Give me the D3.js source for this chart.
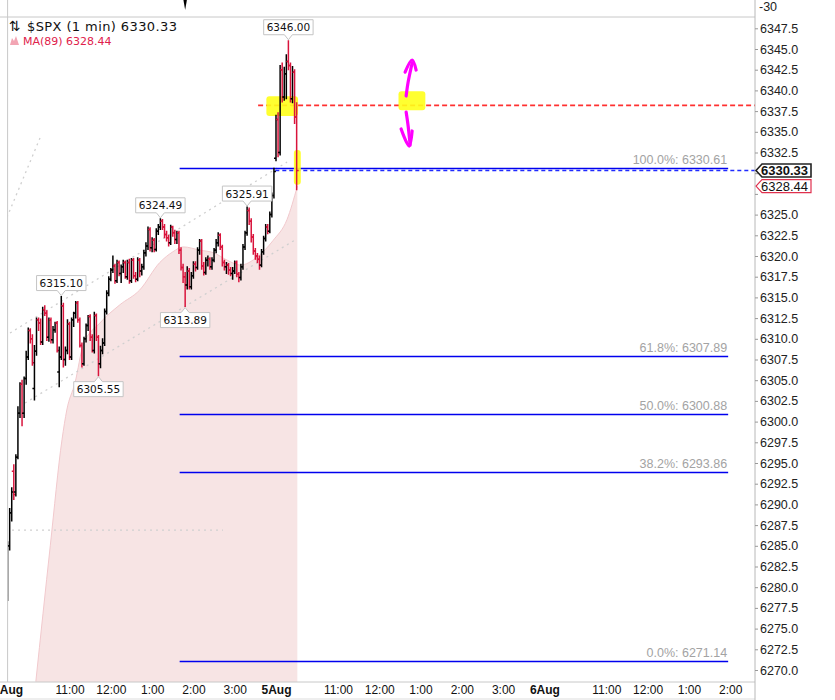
<!DOCTYPE html>
<html><head><meta charset="utf-8">
<script src="https://cdn.jsdelivr.net/npm/d3@7"></script>
<style>
html,body{margin:0;padding:0;background:#fff;}
svg{display:block;}
</style></head><body>
<svg id="chart" width="835" height="700"></svg>
<script>
// ---------------- DATA ----------------
const symbolText = "$SPX (1 min) 6330.33";
const maText = "MA(89) 6328.44";
const lastPrice = 6330.33;
const lastMA = 6328.44;
const redLevel = 6338.2;

// 3-minute OHLC bars, trading minutes counted from 4 Aug 9:30 (390 min per session)
const barMinutes = d3.range(0, 423, 3);
const opens = [6279.0,6285.0,6289.0,6294.0,6291.5,6295.7,6301.0,6304.5,6301.0,6305.2,
6307.8,6311.0,6310.0,6304.0,6308.5,6312.3,6311.9,6309.6,6313.5,6313.1,
6310.2,6312.3,6309.9,6311.1,6311.9,6306.0,6307.8,6314.0,6307.5,6308.6,
6311.8,6307.8,6312.3,6313.1,6314.3,6312.3,6309.2,6307.0,6310.0,6311.6,
6312.7,6310.2,6308.6,6312.8,6310.2,6307.0,6308.6,6309.5,6313.3,6315.5,
6317.2,6318.3,6318.8,6317.0,6319.2,6317.9,6318.7,6319.2,6317.5,6319.2,
6317.0,6319.5,6317.6,6317.2,6319.5,6318.2,6318.7,6320.4,6321.2,6323.2,
6321.0,6321.9,6320.8,6323.0,6323.5,6324.2,6323.5,6322.6,6322.2,6321.6,
6323.5,6322.8,6322.0,6322.8,6320.7,6318.6,6317.5,6316.5,6318.2,6316.3,
6317.6,6319.0,6318.6,6320.7,6321.8,6318.8,6318.0,6319.5,6319.6,6318.7,
6319.5,6320.7,6321.6,6322.5,6321.1,6319.2,6318.7,6318.9,6318.3,6317.9,
6318.2,6319.2,6317.8,6317.4,6318.7,6321.1,6322.8,6325.5,6324.2,6322.3,
6320.6,6320.0,6319.6,6318.9,6320.5,6322.1,6323.5,6323.0,6325.0,6327.3,
6331.8,6336.5,6332.5,6342.5,6339.2,6342.0,6343.5,6343.0,6339.0,6342.2,
6336.8];
const highs = [6285.5,6289.5,6292.0,6294.8,6296.0,6301.8,6304.7,6305.0,6305.4,6308.5,
6311.3,6311.2,6310.5,6309.2,6312.5,6312.5,6312.4,6313.8,6314.0,6313.4,
6312.5,6312.5,6311.5,6312.0,6312.1,6309.0,6315.1,6314.3,6309.0,6312.3,
6312.0,6312.5,6313.2,6314.5,6314.5,6312.5,6309.5,6310.2,6311.8,6312.8,
6312.9,6310.5,6313.2,6313.0,6310.4,6309.1,6310.0,6313.6,6315.8,6317.5,
6318.5,6320.0,6319.0,6319.5,6319.4,6318.9,6319.5,6319.4,6319.5,6319.6,
6319.7,6319.7,6318.0,6319.8,6319.7,6319.0,6320.7,6321.6,6323.5,6323.4,
6322.2,6322.1,6323.3,6323.8,6324.49,6324.4,6323.8,6323.0,6322.5,6323.7,
6323.6,6323.1,6323.0,6323.0,6321.0,6319.0,6318.0,6318.7,6318.5,6318.0,
6319.3,6319.3,6321.0,6322.0,6322.0,6319.2,6319.8,6320.0,6319.8,6319.8,
6320.9,6322.0,6322.8,6322.7,6321.3,6319.5,6319.2,6319.1,6318.6,6318.6,
6319.4,6319.4,6318.0,6319.0,6321.4,6323.0,6325.91,6325.8,6324.5,6322.6,
6320.9,6320.3,6320.0,6320.8,6322.4,6323.8,6323.8,6325.3,6327.6,6330.61,
6337.0,6337.3,6343.0,6343.3,6342.8,6344.3,6346.0,6343.3,6342.9,6342.5,
6338.5];
const lows = [6278.4,6284.5,6288.0,6290.6,6291.0,6295.5,6300.5,6299.5,6300.5,6304.5,
6307.5,6309.5,6306.8,6302.6,6308.0,6311.0,6309.3,6309.3,6312.8,6309.8,
6309.7,6309.5,6309.5,6310.8,6308.4,6304.2,6307.5,6306.6,6306.8,6308.2,
6307.5,6307.5,6311.5,6312.5,6312.0,6309.0,6306.6,6306.8,6309.6,6311.0,
6309.8,6308.4,6308.3,6309.8,6305.55,6306.5,6308.2,6309.2,6313.0,6315.2,
6317.0,6318.0,6316.7,6316.8,6317.6,6316.8,6318.0,6317.3,6317.2,6316.7,
6316.8,6317.3,6316.9,6317.0,6317.5,6317.7,6318.4,6320.0,6320.8,6320.6,
6320.5,6320.5,6320.6,6322.6,6323.2,6323.2,6322.2,6321.8,6321.2,6321.4,
6322.4,6321.5,6321.5,6320.3,6318.3,6316.8,6313.89,6316.0,6316.0,6316.0,
6317.3,6318.2,6318.4,6320.2,6318.4,6317.7,6317.8,6318.8,6318.4,6318.4,
6319.3,6320.4,6321.2,6320.8,6318.8,6318.3,6317.9,6317.8,6317.6,6317.2,
6317.9,6317.5,6316.9,6317.1,6318.4,6320.8,6322.5,6323.8,6321.7,6320.2,
6319.6,6319.2,6318.4,6318.7,6320.2,6321.8,6322.7,6322.8,6324.7,6327.0,
6331.5,6332.0,6332.2,6338.6,6338.8,6339.0,6342.5,6338.6,6338.5,6336.0,
6328.0];
const closes = [6285.0,6289.0,6291.5,6291.2,6295.7,6301.0,6304.5,6301.0,6305.2,6307.8,
6311.0,6310.0,6307.1,6308.5,6312.3,6311.9,6309.6,6313.5,6313.1,6310.2,
6312.3,6309.9,6311.1,6311.9,6308.6,6307.8,6314.0,6307.5,6308.6,6311.8,
6307.8,6312.3,6313.1,6314.3,6312.3,6309.2,6307.0,6310.0,6311.6,6312.7,
6310.2,6308.6,6312.8,6310.2,6307.0,6308.6,6309.5,6313.3,6315.5,6317.2,
6318.3,6318.8,6317.0,6319.2,6317.9,6318.7,6319.2,6317.5,6319.2,6317.0,
6319.5,6317.6,6317.2,6319.5,6318.2,6318.7,6320.4,6321.2,6323.2,6321.0,
6321.9,6320.8,6323.0,6323.5,6324.2,6323.5,6322.6,6322.2,6321.6,6323.5,
6322.8,6322.0,6322.8,6320.7,6318.6,6317.5,6316.5,6318.2,6316.3,6317.6,
6319.0,6318.6,6320.7,6321.8,6318.8,6318.0,6319.5,6319.6,6318.7,6319.5,
6320.7,6321.6,6322.5,6321.1,6319.2,6318.7,6318.9,6318.3,6317.9,6318.2,
6319.2,6317.8,6317.4,6318.7,6321.1,6322.8,6325.5,6324.2,6322.3,6320.6,
6320.0,6319.6,6318.9,6320.5,6322.1,6323.5,6323.0,6325.0,6327.3,6330.2,
6336.5,6332.5,6342.5,6339.2,6342.0,6343.5,6343.0,6339.0,6342.2,6336.8,
6330.33];

// MA(89) read at sampled minutes
const maMinutes = [41,62,79,86,98,110,134,163,192,221,240,255,280,299,319,338,363,386,406,421];
const maValues = [6268.6,6285.0,6297.8,6301.4,6304.7,6309.3,6311.9,6314.1,6315.9,6319.2,6320.5,6321.1,6320.7,6320.4,6319.5,6318.9,6319.9,6321.9,6324.4,6328.44];

// Fibonacci retracement
const fibLabels = ["100.0%","61.8%","50.0%","38.2%","0.0%"];
const fibValues = [6330.61,6307.89,6300.88,6293.86,6271.14];
const fibStartMinute = 250, fibEndMinute = 1047;

// price callouts (bar index, side)
const calloutBars = [136,74,116,26,86,44];
const calloutSides = ["high","high","high","high","low","low"];

// axis ticks
const yTicks = d3.range(6270, 6348, 2.5);
const xTickMinutes = [0,90,150,210,270,330,390,480,540,600,660,720,780,870,930,990,1050];
const xTickLabels = ["4Aug","11:00","12:00","1:00","2:00","3:00","5Aug","11:00","12:00","1:00","2:00","3:00","6Aug","11:00","12:00","1:00","2:00"];

// drawn trend lines (minute, price)
const trendLines = [
  [[-11,6322.66],[47.1,6334.25]],
  [[3.5,6310.70],[406.1,6331.35]],
  [[25.3,6302.25],[417.7,6321.94]],
  [[-11,6286.9],[313,6286.9]]
];
// yellow highlighter marks [m0,m1,p0,p1]
const highlights = [[376,422,6339.3,6336.9],[568,607,6339.9,6337.6],[416,426,6332.8,6328.6]];
// magenta arrows (minute, price)
const arrowUpShaft = [[579.1,6339.32],[582.0,6341.01],[587.8,6343.3]];
const arrowUpHead = [[577.6,6342.2],[587.8,6343.67],[593.6,6342.46]];
const arrowDownShaft = [[579.1,6337.39],[582.0,6335.70],[584.9,6333.40]];
const arrowDownHead = [[571.8,6335.34],[583.4,6333.28],[587.8,6335.10]];

// ---------------- CHART ----------------
const W = 835, H = 700;
const plotLeft = 7.6, plotRight = 755, plotTop = 17, plotBottom = 682;
const svg = d3.select("#chart");
const x = d3.scaleLinear().domain([0, 1086]).range([plotLeft, plotRight]);
const y = d3.scaleLinear().domain([6270, 6347.5]).range([670, 28.3]);
const crisp = v => Math.round(v) + 0.5;

svg.append("rect").attr("width", W).attr("height", H).attr("fill", "#fff");
svg.append("defs").append("clipPath").attr("id", "plotclip")
  .append("rect").attr("x", plotLeft).attr("y", plotTop).attr("width", plotRight - plotLeft).attr("height", plotBottom - plotTop);

const plot = svg.append("g").attr("clip-path", "url(#plotclip)");

// MA area
const maData = maMinutes.map((m, i) => ({ m, v: maValues[i] }));
plot.append("path").datum(maData)
  .attr("d", d3.area().x(d => x(d.m)).y0(plotBottom).y1(d => y(d.v)).curve(d3.curveMonotoneX))
  .attr("fill", "#f7e4e4");
plot.append("path").datum(maData)
  .attr("d", d3.line().x(d => x(d.m)).y(d => y(d.v)).curve(d3.curveMonotoneX))
  .attr("fill", "none").attr("stroke", "#f1c9cd").attr("stroke-width", 1);

// dotted trend lines
plot.append("g").selectAll("line").data(trendLines).join("line")
  .attr("x1", d => x(d[0][0])).attr("y1", d => y(d[0][1]))
  .attr("x2", d => x(d[1][0])).attr("y2", d => y(d[1][1]))
  .attr("stroke", "#cfcfcf").attr("stroke-width", 1.3).attr("stroke-dasharray", "2,4");

// fib lines
const fibG = plot.append("g");
fibG.selectAll("line").data(fibValues).join("line")
  .attr("x1", x(fibStartMinute)).attr("x2", x(fibEndMinute))
  .attr("y1", d => crisp(y(d))).attr("y2", d => crisp(y(d)))
  .attr("stroke", "#0000ee").attr("stroke-width", 1.3);
fibG.selectAll("text").data(fibValues).join("text")
  .attr("x", x(fibEndMinute) - 1).attr("y", d => y(d) - 4)
  .attr("text-anchor", "end")
  .attr("font-family", "Liberation Sans, Arial, sans-serif").attr("font-size", 12.5)
  .attr("fill", "#a3a3a3")
  .text((d, i) => `${fibLabels[i]}: ${d.toFixed(2)}`);

// dashed lines
plot.append("line").attr("x1", x(364)).attr("x2", plotRight)
  .attr("y1", y(redLevel)).attr("y2", y(redLevel))
  .attr("stroke", "#ff3030").attr("stroke-width", 1.8).attr("stroke-dasharray", "5,3");
plot.append("line").attr("x1", x(389)).attr("x2", plotRight)
  .attr("y1", crisp(y(lastPrice))).attr("y2", crisp(y(lastPrice)))
  .attr("stroke", "#1f2bff").attr("stroke-width", 1.3).attr("stroke-dasharray", "4,3");

// yellow highlights
plot.append("g").selectAll("rect").data(highlights).join("rect")
  .attr("x", d => x(d[0])).attr("width", d => x(d[1]) - x(d[0]))
  .attr("y", d => y(d[2])).attr("height", d => y(d[3]) - y(d[2]))
  .attr("rx", 3).attr("fill", "#ffff1a").attr("opacity", 0.9);

// OHLC bars
const barData = barMinutes.map((m, i) => ({ m, o: opens[i], h: highs[i], l: lows[i], c: closes[i] }));
const bg = plot.append("g").selectAll("g").data(barData).join("g")
  .attr("stroke", d => d.c >= d.o ? "#000" : "#d9143c").attr("stroke-width", 1.5);
bg.append("line").attr("x1", d => x(d.m)).attr("x2", d => x(d.m)).attr("y1", d => y(d.h) - 0.5).attr("y2", d => y(d.l) + 0.5);
bg.append("line").attr("x1", d => x(d.m) - 2).attr("x2", d => x(d.m)).attr("y1", d => y(d.o)).attr("y2", d => y(d.o));
bg.append("line").attr("x1", d => x(d.m)).attr("x2", d => x(d.m) + 2).attr("y1", d => y(d.c)).attr("y2", d => y(d.c));

// magenta arrows
const lineGen = d3.line().x(d => x(d[0])).y(d => y(d[1])).curve(d3.curveCatmullRom);
[arrowUpShaft, arrowUpHead, arrowDownShaft, arrowDownHead].forEach(pts => {
  plot.append("path").attr("d", lineGen(pts)).attr("fill", "none")
    .attr("stroke", "#ff00ff").attr("stroke-width", 3.2)
    .attr("stroke-linecap", "round").attr("stroke-linejoin", "round");
});

// callouts
const cg = svg.append("g");
calloutBars.forEach((bi, k) => {
  const side = calloutSides[k];
  const val = side === "high" ? highs[bi] : lows[bi];
  const cx = x(barMinutes[bi]);
  const py = y(val);
  const t = cg.append("text").attr("font-family", "DejaVu Sans, Verdana, sans-serif")
    .attr("font-size", 10.5).attr("fill", "#111").attr("text-anchor", "middle").text(val.toFixed(2));
  const tw = t.node().getComputedTextLength();
  const bw = tw + 6, bh = 15;
  let top, p;
  const l = cx - bw / 2, r = cx + bw / 2;
  if (side === "high") {
    const bottom = py - 6;
    top = bottom - bh;
    p = `M${l},${top}H${r}V${bottom}H${cx + 4}L${cx},${bottom + 5}L${cx - 4},${bottom}H${l}Z`;
  } else {
    top = py + 6;
    const bottom = top + bh;
    p = `M${l},${top}H${cx - 4}L${cx},${top - 5}L${cx + 4},${top}H${r}V${bottom}H${l}Z`;
  }
  cg.insert("path", "text").attr("d", p).attr("fill", "#fff").attr("stroke", "#c4c4c4").attr("stroke-width", 1);
  t.attr("x", cx).attr("y", top + 11.5);
});

// borders
const border = svg.append("g").attr("stroke", "#c8c8c8").attr("stroke-width", 1);
border.append("line").attr("x1", plotLeft).attr("x2", plotLeft).attr("y1", 0).attr("y2", plotBottom);
border.append("line").attr("x1", 0).attr("x2", plotRight).attr("y1", plotTop).attr("y2", plotTop);
border.append("line").attr("x1", 0).attr("x2", plotRight).attr("y1", plotBottom).attr("y2", plotBottom);
border.append("line").attr("x1", 0).attr("x2", plotRight).attr("y1", 699).attr("y2", 699).attr("stroke", "#ddd");
border.append("line").attr("x1", plotRight).attr("x2", plotRight).attr("y1", 0).attr("y2", H).attr("stroke", "#b8b8b8");

// upper indicator strip remnants
svg.append("path").attr("d", `M${x(255.5)},0L${x(260.5)},0L${x(258)},10Z`).attr("fill", "#000");
svg.append("text").attr("x", 759).attr("y", 11).attr("font-family", "Liberation Sans, Arial, sans-serif")
  .attr("font-size", 12.5).attr("fill", "#222").text("-30");

// right axis (tick labels hidden behind the price tags are left out)
const yAxisG = svg.append("g").attr("transform", `translate(${plotRight},0)`)
  .call(d3.axisRight(y).tickValues(yTicks).tickFormat(d3.format(".1f")).tickSize(3).tickPadding(2));
yAxisG.select(".domain").remove();
yAxisG.selectAll(".tick line").attr("stroke", "#999");
yAxisG.selectAll(".tick text").attr("font-family", "Liberation Sans, Arial, sans-serif")
  .attr("font-size", 12.5).attr("fill", "#222")
  .attr("display", d => (Math.abs(d - lastPrice) < 1 || Math.abs(d - lastMA) < 1) ? "none" : null);

// price tags
function tag(val, txt, bold, borderColor) {
  const ty = y(val);
  svg.append("path")
    .attr("d", `M${plotRight + 1},${ty}L${plotRight + 7},${ty - 6.5}H${plotRight + 56}V${ty + 6.5}H${plotRight + 7}Z`)
    .attr("fill", "#fff").attr("stroke", borderColor).attr("stroke-width", bold ? 1.6 : 1.2);
  svg.append("text").attr("x", plotRight + 6).attr("y", ty + 4.5)
    .attr("font-family", "Liberation Sans, Arial, sans-serif").attr("font-size", 13)
    .attr("font-weight", bold ? "bold" : "normal").attr("fill", "#111").text(txt);
}
tag(lastMA, lastMA.toFixed(2), false, "#e0304e");
tag(lastPrice, lastPrice.toFixed(2), true, "#222");

// x axis
const xAxisG = svg.append("g").attr("transform", `translate(0,${plotBottom})`)
  .call(d3.axisBottom(x).tickValues(xTickMinutes).tickFormat((d, i) => xTickLabels[i]).tickSize(0).tickPadding(3));
xAxisG.select(".domain").remove();
xAxisG.selectAll(".tick text")
  .attr("font-family", "Liberation Sans, Arial, sans-serif").attr("font-size", 12).attr("fill", "#111")
  .attr("font-weight", (d, i) => /Aug/.test(xTickLabels[i]) ? "bold" : "normal");

// legend
svg.append("text").attr("x", 9).attr("y", 31).attr("font-family", "DejaVu Sans, sans-serif")
  .attr("font-size", 14).attr("fill", "#111").text("⇅");
svg.append("text").attr("x", 27).attr("y", 31).attr("font-family", "DejaVu Sans, Verdana, sans-serif")
  .attr("font-size", 13).attr("letter-spacing", 0.4).attr("fill", "#111").text(symbolText);
svg.append("path").attr("d", "M10,45L12,38L14,41L16,36L19,45Z").attr("fill", "#f2a5b3");
svg.append("text").attr("x", 23).attr("y", 45).attr("font-family", "DejaVu Sans, Verdana, sans-serif")
  .attr("font-size", 11).attr("fill", "#e0214b").text(maText);
</script>
</body></html>
